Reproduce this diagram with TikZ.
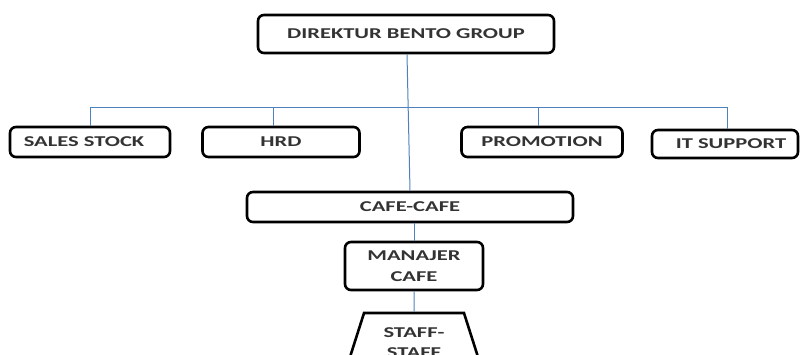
\documentclass[tikz,border=0pt]{standalone}
\usepackage{fontspec}
\setmainfont{Carlito}[FakeStretch=1.5]
\usetikzlibrary{shapes.geometric}
\definecolor{linkblue}{HTML}{4F81BD}
\definecolor{inkgray}{HTML}{333333}
\tikzset{
  orgbox/.style={draw=black, line width=2.6pt, rounded corners=6pt, fill=white,
    inner sep=0pt, font=\fontsize{15}{18}\selectfont\bfseries, text=inkgray, align=center},
  link/.style={draw=linkblue, line width=1pt},
}
\begin{document}
\begin{tikzpicture}[x=1pt, y=-1pt]
  \useasboundingbox (0,0) rectangle (800,354);
  \clip (0,0) rectangle (800,354);

  % bus line endpoints and drop points
  \coordinate (busL) at (90,107);
  \coordinate (busR) at (727,107);
  \coordinate (busHRD) at (273,107);
  \coordinate (busPR) at (538,107);

  % boxes
  \node[orgbox, minimum width=296pt, minimum height=38pt] (dir) at (406,34) {DIREKTUR BENTO GROUP};
  \node[orgbox, minimum width=160pt, minimum height=30pt] (sales) at (90,142) {SALES STOCK\hspace{12pt}};
  \node[orgbox, minimum width=157pt, minimum height=30pt] (hrd) at (281,142) {HRD};
  \node[orgbox, minimum width=161pt, minimum height=30pt] (promo) at (542,142) {PROMOTION};
  \node[orgbox, minimum width=146pt, minimum height=28pt] (it) at (725,144) {\hspace{12pt}IT SUPPORT};
  \node[orgbox, minimum width=326pt, minimum height=30pt] (cafe) at (410,207) {CAFE-CAFE};
  \node[orgbox, minimum width=138pt, minimum height=48pt] (mgr) at (414,266) {MANAJER\\[3pt]CAFE};
  \node[draw=black, line width=2.6pt, fill=white, trapezium, trapezium stretches=true,
    trapezium left angle=68.7, trapezium right angle=68.7,
    minimum width=139pt, minimum height=60pt, inner sep=0pt,
    font=\fontsize{15}{20}\selectfont\bfseries, text=inkgray, align=center] (staff) at (414,343) {STAFF-\\STAFF};

  % links
  \draw[link] (busL) -- (busR);
  \draw[link] (busL) -- (sales.north -| busL);
  \draw[link] (busHRD) -- (hrd.north -| busHRD);
  \draw[link] (busPR) -- (promo.north -| busPR);
  \draw[link] (busR) -- (it.north -| busR);
  \draw[link] (dir.south) ++(1,0) -- (cafe.north);
  \draw[link] (cafe.south -| mgr.north) -- (mgr.north);
  \draw[link] (mgr.south) -- (staff.north);
\end{tikzpicture}
\end{document}
